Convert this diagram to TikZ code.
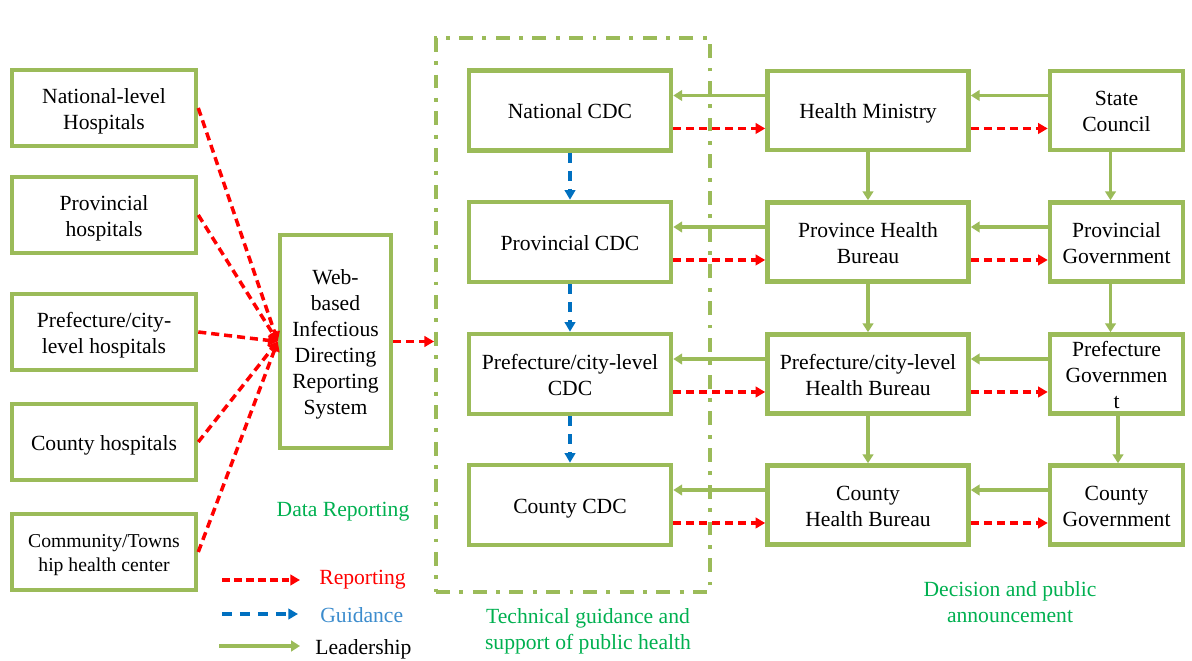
\documentclass[tikz,border=0pt]{standalone}
\usepackage{fontspec}
\setmainfont{Liberation Serif}
\usetikzlibrary{arrows.meta,positioning}
\definecolor{boxGreen}{RGB}{155,187,89}
\definecolor{labelGreen}{RGB}{0,176,80}
\definecolor{guideBlue}{RGB}{0,112,192}
\definecolor{guideText}{RGB}{60,140,205}
\newcommand{\boxFont}{\fontsize{12.3}{14.8}\selectfont}
\newcommand{\smallBoxFont}{\fontsize{11.2}{13.6}\selectfont}
\newcommand{\lineStrut}{\rule[-0.216em]{0pt}{1.216em}}
\newcommand{\tailStrut}{\rule[-0.216em]{0pt}{1.107em}}
\newcommand{\leadShift}{0.3cm}
\newcommand{\reportShift}{-0.36cm}
\newcommand{\govShift}{-0.12cm}

\tikzset{
  block/.style={draw=boxGreen, line width=2.6pt, fill=white, align=flush center, inner sep=0pt,
    font=\boxFont, text=black, execute at begin node=\lineStrut, execute at end node=\tailStrut},
  hosp/.style={block, minimum width=3.68cm, minimum height=1.52cm, text width=3.5cm},
  cdc/.style={block, minimum width=4.04cm, minimum height=1.6cm, text width=3.9cm},
  bureau/.style={block, minimum width=4.02cm, minimum height=1.58cm, text width=3.9cm},
  gov/.style={block, minimum width=2.66cm, minimum height=1.58cm, text width=2.55cm},
  report/.style={red, line width=2pt, dash pattern=on 4.6pt off 2.8pt, -{Triangle[length=5.5pt,width=6pt]}},
  guide/.style={guideBlue, line width=2pt, dash pattern=on 5.8pt off 4.4pt, -{Triangle[length=5.5pt,width=6pt]}},
  lead/.style={boxGreen, line width=1.8pt, -{Triangle[length=5pt,width=6pt]}},
  caption/.style={font=\boxFont, text=labelGreen, align=center},
}

\begin{document}
\begin{tikzpicture}[x=0.02cm, y=-0.02cm]
\useasboundingbox (0,0) rectangle (1192,661);

% technical guidance frame
\node[draw=boxGreen, line width=2.2pt, dash pattern=on 7.9pt off 5.4pt on 2.2pt off 5.4pt,
      minimum width=5.48cm, minimum height=11.08cm, inner sep=0pt] (cdcFrame) at (573,315) {};

% hospitals
\node[hosp] (hospNat) at (104,108) {National-level\\Hospitals};
\node[hosp] (hospProv) at (104,215) {Provincial\\hospitals};
\node[hosp] (hospPref) at (104,332) {Prefecture/city-\\level hospitals};
\node[hosp] (hospCounty) at (104,442) {County hospitals};
\node[hosp, font=\smallBoxFont] (hospComm) at (104,552) {Community/Towns\\hip health center};

\node[block, minimum width=2.22cm, minimum height=4.26cm, text width=2.1cm] (web) at (335.5,341.5)
  {Web-\\based\\Infectious\\Directing\\Reporting\\System};

% CDC column
\node[cdc] (cdcNat) at (570,110.5) {National CDC};
\node[cdc] (cdcProv) at (570,242) {Provincial CDC};
\node[cdc] (cdcPref) at (570,374) {Prefecture/city-level\\CDC};
\node[cdc] (cdcCounty) at (570,505) {County CDC};

% health administration
\node[bureau] (burNat) at (868,110.5) {Health Ministry};
\node[bureau] (burProv) at (868,242) {Province Health\\Bureau};
\node[bureau] (burPref) at (868,374) {Prefecture/city-level\\Health Bureau};
\node[bureau] (burCounty) at (868,505) {County\\Health Bureau};

% governments
\node[gov] (govNat) at (1116.5,110.5) {State\\Council};
\node[gov] (govProv) at (1116.5,242) {Provincial\\Government};
\node[gov] (govPref) at (1116.5,374) {Prefecture\\Governmen\\t};
\node[gov] (govCounty) at (1116.5,505) {County\\Government};

% data reporting
\foreach \h in {hospNat,hospProv,hospPref,hospCounty,hospComm}
  \draw[report] (\h.east) -- (web.west);
\draw[report] (web.east) -- (cdcFrame.west |- web.east);

\draw[guide] (cdcNat) -- (cdcProv);
\draw[guide] (cdcProv) -- (cdcPref);
\draw[guide] (cdcPref) -- (cdcCounty);

\foreach \lv in {Nat,Prov,Pref,County}{
  \draw[lead] ([yshift=\leadShift]gov\lv.west) -- ([yshift=\leadShift]bur\lv.east);
  \draw[lead] ([yshift=\leadShift]bur\lv.west) -- ([yshift=\leadShift]cdc\lv.east);
  \draw[report] ([yshift=\reportShift]cdc\lv.east) -- ([yshift=\reportShift]bur\lv.west);
  \draw[report] ([yshift=\reportShift]bur\lv.east) -- ([yshift=\reportShift]gov\lv.west);
}

\draw[lead] (burNat) -- (burProv);
\draw[lead] (burProv) -- (burPref);
\draw[lead] (burPref) -- (burCounty);
\draw[lead] ([xshift=\govShift]govNat.south) -- ([xshift=\govShift]govProv.north);
\draw[lead] ([xshift=\govShift]govProv.south) -- ([xshift=\govShift]govPref.north);
\draw[lead] ([xshift=0.03cm]govPref.south) -- ([xshift=0.03cm]govCounty.north);

% captions
\node[caption] (capData) at (343,512) {Data Reporting};
\node[caption] (capTech) at (588,631.5) {Technical guidance and\\support of public health};
\node[caption] (capDecision) at (1010,602) {Decision and public\\announcement};

% legend
\coordinate (legRepA) at (222,580);
\coordinate (legRepB) at (300,580);
\coordinate (legGuideA) at (222,614);
\coordinate (legGuideB) at (298,614);
\coordinate (legLeadA) at (219,646);
\coordinate (legLeadB) at (300,646);
\draw[report, dash pattern=on 4.4pt off 2.4pt] (legRepA) -- (legRepB);
\draw[guide] (legGuideA) -- (legGuideB);
\draw[lead] (legLeadA) -- (legLeadB);
\node[font=\boxFont, text=red, anchor=west, inner sep=0pt] (legRep) at (319,580) {Reporting};
\node[font=\boxFont, text=guideText, anchor=west, inner sep=0pt] (legGuide) at (320,615) {Guidance};
\node[font=\boxFont, text=black, anchor=west, inner sep=0pt] (legLead) at (315,649) {Leadership};
\end{tikzpicture}
\end{document}
